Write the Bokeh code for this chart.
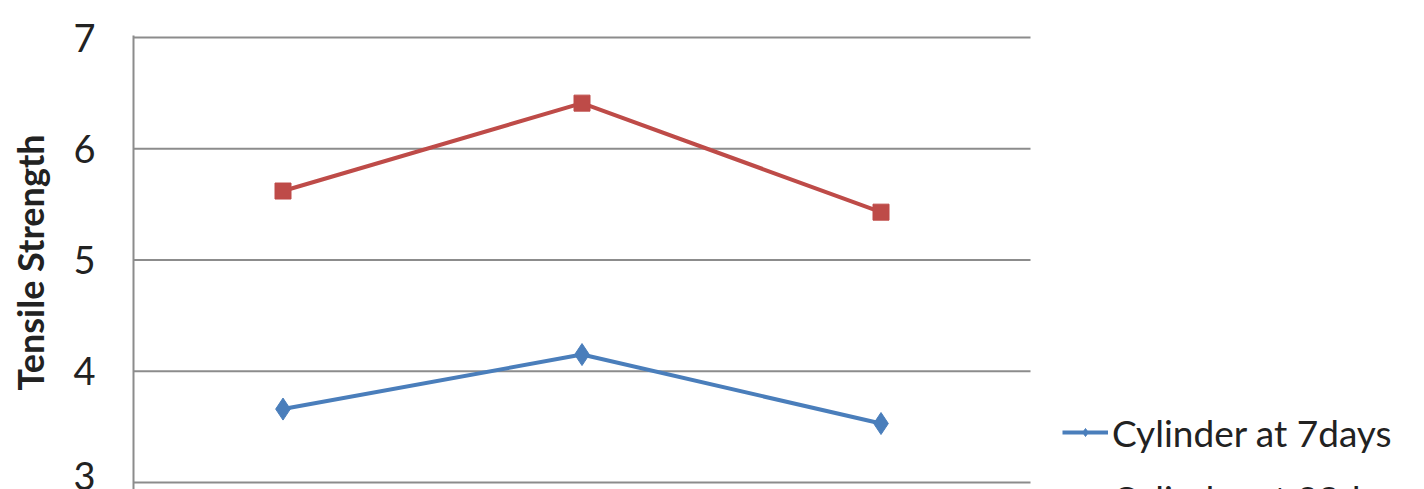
from bokeh.plotting import figure
from bokeh.models import Range1d, Legend, LegendItem, FixedTicker
from bokeh.embed import file_html
from bokeh.resources import INLINE

categories = ["A", "B", "C"]
x_pos = [0.5, 1.5, 2.5]
days7 = [3.66, 4.15, 3.53]
days28 = [5.62, 6.41, 5.43]
y_ticks = [3, 4, 5, 6, 7]

FONT = "Lato"
BLUE = "#4A7EBB"
RED = "#BE4B48"
GRID = "#8C8C8C"

W = 1416
LEFT = 133
PLOT_W = 897
n = len(categories)

p = figure(width=W, height=489, output_backend="svg", toolbar_location=None,
           x_range=Range1d(0, n * (W - LEFT) / PLOT_W), y_range=Range1d(2.937, 7.018),
           min_border_left=LEFT, min_border_right=0, min_border_top=35,
           min_border_bottom=0, outline_line_color=None)

p.xaxis.visible = False
p.xgrid.visible = False
p.ygrid.visible = False
p.yaxis.ticker = FixedTicker(ticks=y_ticks)
p.yaxis.axis_line_color = GRID
p.yaxis.axis_line_width = 2
p.yaxis.major_tick_out = 0
p.yaxis.major_tick_in = 0
p.yaxis.minor_tick_out = 0
p.yaxis.minor_tick_in = 0
p.yaxis.major_label_standoff = 38
p.yaxis.major_label_text_font = FONT
p.yaxis.major_label_text_font_size = "38px"
p.yaxis.major_label_text_color = "#222222"
p.yaxis.axis_label = "Tensile Strength"
p.yaxis.axis_label_text_font = FONT
p.yaxis.axis_label_text_font_style = "bold"
p.yaxis.axis_label_text_font_size = "36px"
p.yaxis.axis_label_text_color = "#222222"
p.yaxis.axis_label_standoff = 18

# horizontal gridlines spanning the category area only
p.segment(x0=[0] * len(y_ticks), x1=[n] * len(y_ticks), y0=y_ticks, y1=y_ticks,
          line_color=GRID, line_width=2)

l1 = p.line(x_pos, days7, line_color=BLUE, line_width=4)
m1 = p.scatter(x_pos, days7, marker="diamond", size=22, fill_color=BLUE, line_color=BLUE)
l2 = p.line(x_pos, days28, line_color=RED, line_width=4)
m2 = p.scatter(x_pos, days28, marker="square", size=16, fill_color=RED, line_color=RED)

legend = Legend(items=[LegendItem(label="Cylinder at 7days", renderers=[l1, m1]),
                       LegendItem(label="Cylinder at 28days", renderers=[l2, m2])],
                location=(929, -39), border_line_color=None, background_fill_alpha=0,
                padding=0, margin=0, spacing=6, label_height=60, glyph_height=20,
                glyph_width=46, label_standoff=4,
                label_text_font=FONT, label_text_font_size="37px",
                label_text_color="#222222")
p.add_layout(legend)

open("out.html", "w").write(file_html(p, INLINE))
